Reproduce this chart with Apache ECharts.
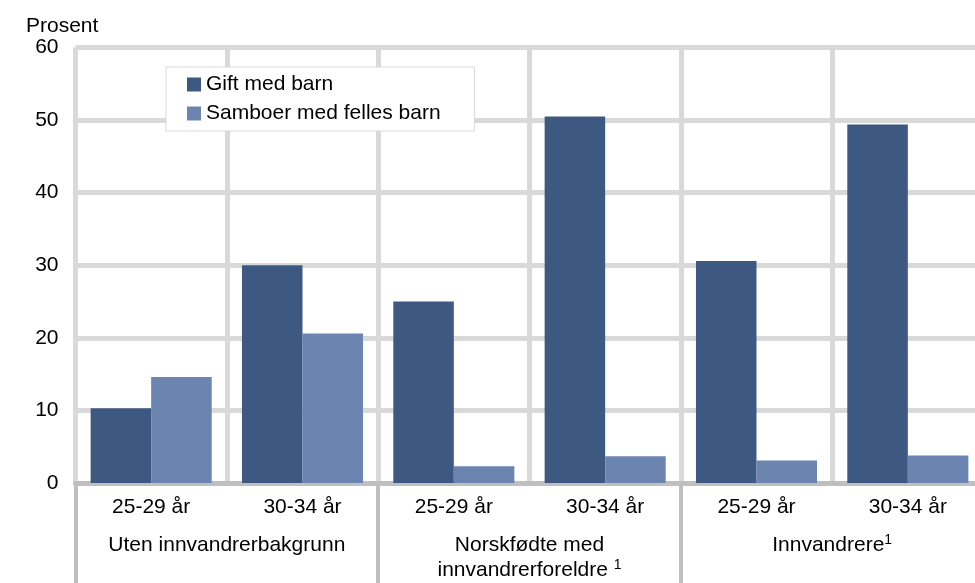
<!DOCTYPE html>
<html>
<head>
<meta charset="utf-8">
<script src="https://cdn.jsdelivr.net/npm/echarts@6/dist/echarts.min.js"></script>
<style>
  html, body { margin: 0; padding: 0; background: #fff; }
  #chart { width: 975px; height: 583px; }
</style>
</head>
<body>
<div id="chart"></div>
<script>
// Data
const ageGroups = ['25-29 år', '30-34 år', '25-29 år', '30-34 år', '25-29 år', '30-34 år'];
const backgroundGroups = ['Uten innvandrerbakgrunn', 'Norskfødte med\ninnvandrerforeldre {sup|1}', 'Innvandrere{sup|1}'];
const giftMedBarn = [10.3, 30.0, 25.0, 50.5, 30.6, 49.4];
const samboerMedBarn = [14.6, 20.6, 2.3, 3.7, 3.1, 3.8];
const seriesNames = ['Gift med barn', 'Samboer med felles barn'];

const font = 'Liberation Sans, Arial, sans-serif';
const chart = echarts.init(document.getElementById('chart'));

chart.setOption({
  animation: false,
  textStyle: { fontFamily: font },
  title: {
    text: 'Prosent',
    left: 21,
    top: 11,
    textStyle: { fontFamily: font, fontSize: 21, fontWeight: 'normal', color: '#000' }
  },
  legend: {
    orient: 'vertical',
    left: 166,
    top: 67,
    padding: [7, 34, 7, 21],
    itemGap: 8,
    itemWidth: 14,
    itemHeight: 14,
    backgroundColor: '#fff',
    borderColor: '#d9d9d9',
    borderWidth: 1,
    borderRadius: 0,
    icon: 'rect',
    textStyle: { fontFamily: font, fontSize: 21, color: '#000' },
    data: seriesNames
  },
  // the plot runs a little past the right edge of the picture
  grid: { left: 75.5, width: 908, top: 47.5, bottom: 100, outerBoundsMode: 'none', containLabel: false },
  xAxis: [
    {
      type: 'category',
      data: ageGroups,
      position: 'bottom',
      axisLine: { show: true, lineStyle: { color: '#bfbfbf', width: 5 } },
      axisTick: { show: false },
      axisLabel: { interval: 0, margin: 14, fontSize: 21, color: '#000', fontFamily: font },
      splitLine: { show: true, interval: 0, lineStyle: { color: '#d9d9d9', width: 5 } }
    },
    {
      type: 'category',
      data: backgroundGroups,
      position: 'bottom',
      axisLine: { show: false },
      axisTick: { show: true, interval: 0, length: 100, lineStyle: { color: '#bfbfbf', width: 4 } },
      axisLabel: {
        interval: 0,
        margin: 50,
        fontSize: 21,
        lineHeight: 25,
        color: '#000',
        fontFamily: font,
        formatter: (v) => v,
        rich: {
          sup: { fontSize: 14, lineHeight: 14, verticalAlign: 'top', color: '#000', fontFamily: font }
        }
      },
      splitLine: { show: false }
    }
  ],
  yAxis: {
    type: 'value',
    min: 0,
    max: 60,
    interval: 10,
    axisLine: { show: false },
    axisTick: { show: false },
    axisLabel: { margin: 17, fontSize: 21, color: '#000', fontFamily: font },
    splitLine: { lineStyle: { color: '#d9d9d9', width: 5 } }
  },
  series: [
    {
      name: seriesNames[0],
      type: 'bar',
      data: giftMedBarn,
      barGap: '0%',
      barCategoryGap: '20%',
      itemStyle: { color: '#3e5981' },
      z: 3
    },
    {
      name: seriesNames[1],
      type: 'bar',
      data: samboerMedBarn,
      barGap: '0%',
      barCategoryGap: '20%',
      itemStyle: { color: '#6b84b0' },
      z: 3
    }
  ]
});
</script>
</body>
</html>
